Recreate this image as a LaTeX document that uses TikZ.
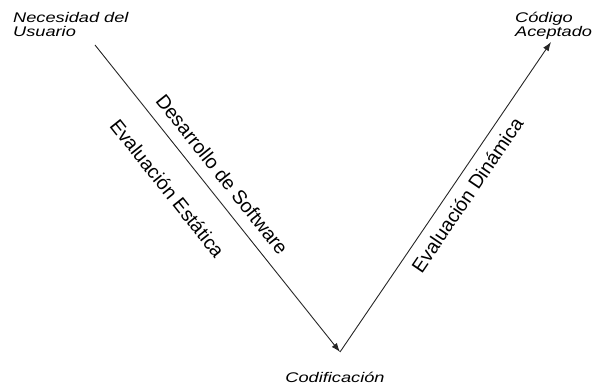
\documentclass[tikz,border=0pt]{standalone}
\usepackage{graphicx}
\usepackage{fontspec}
\setmainfont{Liberation Sans}
\usetikzlibrary{arrows.meta}

\begin{document}
\begin{tikzpicture}[x=1pt, y=-1pt,
		etiqueta/.style={font=\fontsize{14}{14}\selectfont\itshape, align=left, inner sep=0pt},
		fase/.style={font=\fontsize{19.5}{20}\selectfont, sloped, inner sep=0pt},
		flecha/.style={-{Latex[length=9pt,width=6.5pt]}, draw=black!85, line width=0.9pt}]
	\useasboundingbox (0,0) rectangle (594,385);
	\coordinate (inicio) at (95,45);
	\coordinate (vertice) at (340,352);
	\coordinate (fin) at (551,42);
	\node[etiqueta, anchor=north west] (necesidad) at (13,12) {\scalebox{1.3}[1]{Necesidad del}\\\scalebox{1.3}[1]{Usuario}};
	\node[etiqueta, anchor=north west] (aceptado) at (515,12) {\scalebox{1.3}[1]{C\'odigo}\\\scalebox{1.3}[1]{Aceptado}};
	\node[etiqueta, anchor=base] (codificacion) at (335,382) {\scalebox{1.3}[1]{Codificaci\'on}};
	\draw[flecha] (inicio) -- node[fase, pos=0.46, above=11pt] (desarrollo) {Desarrollo de Software}
		node[fase, pos=0.40, below=25pt] (estatica) {Evaluaci\'on Est\'atica} (vertice);
	\draw[flecha] (vertice) -- node[fase, pos=0.537, below=9pt] (dinamica) {Evaluaci\'on Din\'amica} (fin);
\end{tikzpicture}
\end{document}
